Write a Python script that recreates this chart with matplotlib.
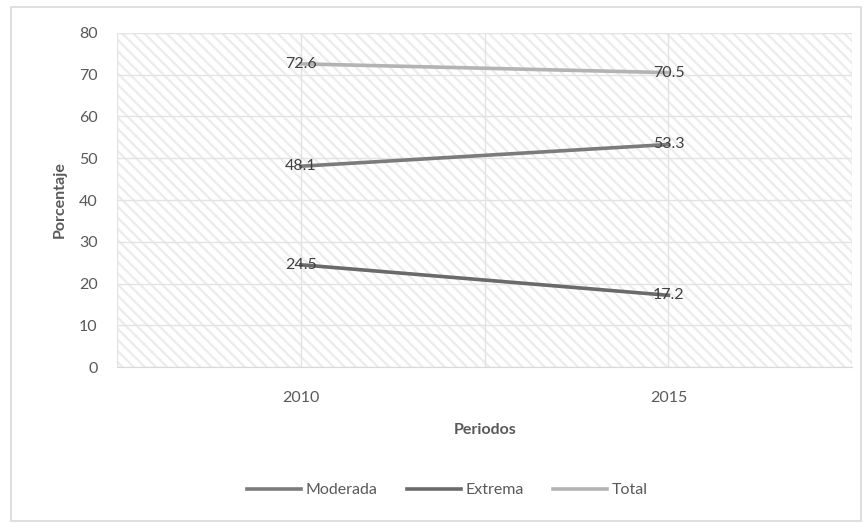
import matplotlib
matplotlib.use('Agg')
import matplotlib.pyplot as plt
from matplotlib.patches import Rectangle

plt.rcParams['font.family'] = ['Lato', 'DejaVu Sans']
plt.rcParams['hatch.linewidth'] = 1.6

# data
periodos = ['2010', '2015']
moderada = [48.1, 53.3]
extrema = [24.5, 17.2]
total = [72.6, 70.5]

txt = '#595959'
fs = 11.5

fig = plt.figure(figsize=(8.67, 5.23), dpi=100)
ax = fig.add_axes([0.135, 0.298, 0.848, 0.639])

# outer chart border
fig.patches.append(Rectangle((0.013, 0.004), 0.98, 0.983, transform=fig.transFigure,
                             fill=False, edgecolor='#d9d9d9', linewidth=1.2))

# hatched plot area
ax.add_patch(Rectangle((0, 0), 1, 1, transform=ax.transAxes, facecolor='none',
                       edgecolor='#ececec', linewidth=0, hatch='\\\\\\', zorder=0))

x = list(range(len(periodos)))
series = [('Moderada', moderada, '#7b7b7b'),
          ('Extrema', extrema, '#6a6a6a'),
          ('Total', total, '#b3b3b3')]
for name, vals, col in series:
    ax.plot(x, vals, color=col, linewidth=2.6, label=name, zorder=3)
    for xi, v in zip(x, vals):
        ax.text(xi, v, '{:.1f}'.format(v), ha='center', va='center',
                fontsize=fs, color='#404040', zorder=4)

ax.set_xlim(-0.5, 1.5)
ax.set_ylim(0, 80)
ax.set_yticks(range(0, 81, 10))
ax.set_xticks(x)
ax.set_xticklabels(periodos)
ax.set_xticks([-0.5, 0.5, 1.5], minor=True)
ax.grid(True, which='both', color='#e3e3e3', linewidth=1, zorder=1)
ax.set_axisbelow(True)
for s in ax.spines.values():
    s.set_visible(False)
ax.spines['bottom'].set_visible(True)
ax.spines['bottom'].set_color('#d9d9d9')
ax.tick_params(which='both', length=0, labelsize=fs, labelcolor=txt)
ax.tick_params(axis='x', pad=17)
ax.tick_params(axis='y', pad=14)

ax.set_xlabel('Periodos', fontsize=fs, fontweight='bold', color=txt, labelpad=13)
ax.set_ylabel('Porcentaje', fontsize=fs, fontweight='bold', color=txt, labelpad=9)

fig.legend(loc='center', bbox_to_anchor=(0.516, 0.063), ncol=3, frameon=False,
           fontsize=fs, labelcolor=txt, handlelength=3.4, handletextpad=0.3,
           columnspacing=1.8)

fig.savefig('out.png', dpi=100)
